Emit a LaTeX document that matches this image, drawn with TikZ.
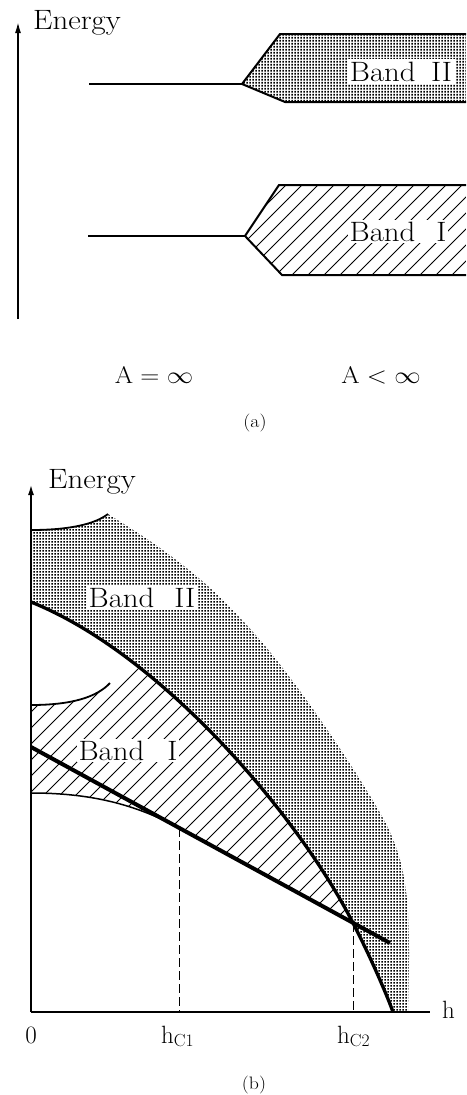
\RequirePackage{fix-cm}
\documentclass[tikz,border=0pt]{standalone}
\usetikzlibrary{patterns,arrows.meta}
\pgfdeclarepatternformonly{bdots}{\pgfqpoint{0pt}{0pt}}{\pgfqpoint{3pt}{3pt}}{\pgfqpoint{3pt}{3pt}}{\pgfpathrectangle{\pgfqpoint{0.35pt}{0.35pt}}{\pgfqpoint{2.3pt}{2.3pt}}\pgfusepath{fill}}
\pgfdeclarepatternformonly{bhatch}{\pgfqpoint{-1pt}{-1pt}}{\pgfqpoint{17pt}{17pt}}{\pgfqpoint{16pt}{16pt}}{\pgfsetlinewidth{0.85pt}\pgfpathmoveto{\pgfqpoint{0pt}{0pt}}\pgfpathlineto{\pgfqpoint{16.1pt}{16.1pt}}\pgfusepath{stroke}}
\newcommand{\wtext}[1]{\scalebox{1.1}[1]{#1}}
\tikzset{
  axisline/.style={line width=1.6pt},
  axarrow/.style={-{Latex[length=11pt,width=6pt]}},
  bandline/.style={line width=2pt, line join=miter},
  stubline/.style={line width=1.6pt},
  lbl/.style={font=\fontsize{28}{32}\selectfont, inner sep=0pt},
  bandlbl/.style={lbl, fill=white, inner sep=2.5pt},
  condlbl/.style={font=\fontsize{24}{28}\selectfont, inner sep=0pt},
  ticklbl/.style={font=\fontsize{25}{29}\selectfont, inner sep=0pt},
  caplbl/.style={font=\fontsize{18}{21}\selectfont, inner sep=0pt},
  thickcurve/.style={line width=3.3pt},
  thickstraight/.style={line width=4pt, line cap=butt},
  thincurve/.style={line width=1.5pt},
  arcline/.style={line width=1.8pt},
  dashline/.style={line width=0.9pt, dash pattern=on 9pt off 4pt},
}
\begin{document}
\begin{tikzpicture}[x=1pt,y=-1pt]
\useasboundingbox (0,0) rectangle (466,1095);

% ================= (a) =================
\coordinate (ya0) at (18,319);
\coordinate (ya1) at (18,22);
\draw[axisline,axarrow] (ya0) -- (ya1);
\node[lbl,anchor=base west] (energyA) at (33,29) {\wtext{Energy}};

% Band II (a)
\coordinate (s2) at (89,84);
\coordinate (L2) at (242,84);
\coordinate (T2) at (280,34);
\coordinate (TR2) at (466,34);
\coordinate (BR2) at (466,102);
\coordinate (B2) at (285,102);
\fill[pattern=bdots] (L2) -- (T2) -- (TR2) -- (BR2) -- (B2) -- cycle;
\draw[bandline] (TR2) -- (T2) -- (L2) -- (B2) -- (BR2);
\draw[stubline] (s2) -- (L2);
\node[bandlbl,anchor=base] (band2a) at (401,81) {\wtext{Band\hspace{14pt}II}};

% Band I (a)
\coordinate (s1) at (88,236);
\coordinate (L1) at (245,236);
\coordinate (T1) at (279,185);
\coordinate (TR1) at (466,185);
\coordinate (BR1) at (466,275);
\coordinate (B1) at (282,275);
\fill[pattern=bhatch] (L1) -- (T1) -- (TR1) -- (BR1) -- (B1) -- cycle;
\draw[bandline] (TR1) -- (T1) -- (L1) -- (B1) -- (BR1);
\draw[stubline] (s1) -- (L1);
\node[bandlbl,anchor=base,inner sep=1.5pt] (band1a) at (398,241) {\wtext{Band\hspace{19pt}I}};

\node[condlbl,anchor=base] (ainf) at (154,383) {\wtext{$\mathrm{A}=\infty$}};
\node[condlbl,anchor=base] (alinf) at (381,383) {\wtext{$\mathrm{A}<\infty$}};
\node[caplbl] (capa) at (255,423) {\wtext{(a)}};

% ================= (b) =================
\coordinate (O) at (31,1012);
\coordinate (ytop) at (31,484);
\coordinate (hend) at (430,1012);
\coordinate (c0) at (31,602);
\coordinate (cx) at (353,923);
\coordinate (c1) at (393,1012);

% Band II dotted region
\fill[pattern=bdots] (31,530) .. controls (70,530) and (95,524) .. (108,514)
  -- plot[smooth,tension=0.55] coordinates {(108,514) (160,548) (210,588) (260,640) (305,698) (350,764) (385,822) (400,860) (407,900) (409,950) (408,1012)}
  -- (c1) .. controls (385,990) and (368,952) .. (cx)
  .. controls (298,815) and (161,654) .. (c0)
  -- cycle;

% Band I hatched region
\begin{scope}
\clip (c0) .. controls (161,654) and (298,815) .. (cx)
  .. controls (368,952) and (385,990) .. (c1) -- (O) -- cycle;
\fill[pattern=bhatch] (31,705) .. controls (72,705) and (97,697) .. (110,683) -- (160,640) -- (440,640) -- (440,971) -- (179,828) .. controls (135,804) and (90,793) .. (31,793) -- cycle;
\end{scope}

% curves
\draw[thickcurve] (c0) .. controls (161,654) and (298,815) .. (cx)
  .. controls (368,952) and (385,990) .. (c1);
\coordinate (lineS) at (31,747);
\coordinate (lineE) at (390,943);
\draw[thickstraight] (lineS) -- (lineE);
\coordinate (thinS) at (31,793);
\coordinate (hc1top) at (179,828);
\draw[thincurve] (thinS) .. controls (90,793) and (135,804) .. (hc1top);
\draw[arcline] (31,530) .. controls (70,530) and (95,524) .. (108,514);
\draw[arcline] (31,705) .. controls (72,705) and (97,697) .. (110,683);

% dashed
\coordinate (hc1bot) at (179,1012);
\coordinate (hc2bot) at (353,1012);
\draw[dashline] (hc1top) -- (hc1bot);
\draw[dashline] (cx) -- (hc2bot);

% axes
\draw[line width=2pt,axarrow] (O) -- (ytop);
\draw[line width=2pt] (O) -- (hend);

% labels
\node[lbl,anchor=base west] (energyB) at (48,488) {\wtext{Energy}};
\node[bandlbl,anchor=base] (band2b) at (142,607) {\wtext{Band\hspace{18pt}II}};
\node[bandlbl,anchor=base,inner sep=1.5pt] (band1b) at (128,760) {\wtext{Band\hspace{21pt}I}};
\node[ticklbl,anchor=base] (zero) at (31,1043) {0};
\node[ticklbl,anchor=base west] (hc1) at (161,1043) {$\mathrm{h}_{\mathrm{C1}}$};
\node[ticklbl,anchor=base west] (hc2) at (337,1043) {$\mathrm{h}_{\mathrm{C2}}$};
\node[ticklbl,anchor=base west] (hlab) at (442,1018) {h};
\node[caplbl] (capb) at (254,1085) {\wtext{(b)}};
\end{tikzpicture}
\end{document}
